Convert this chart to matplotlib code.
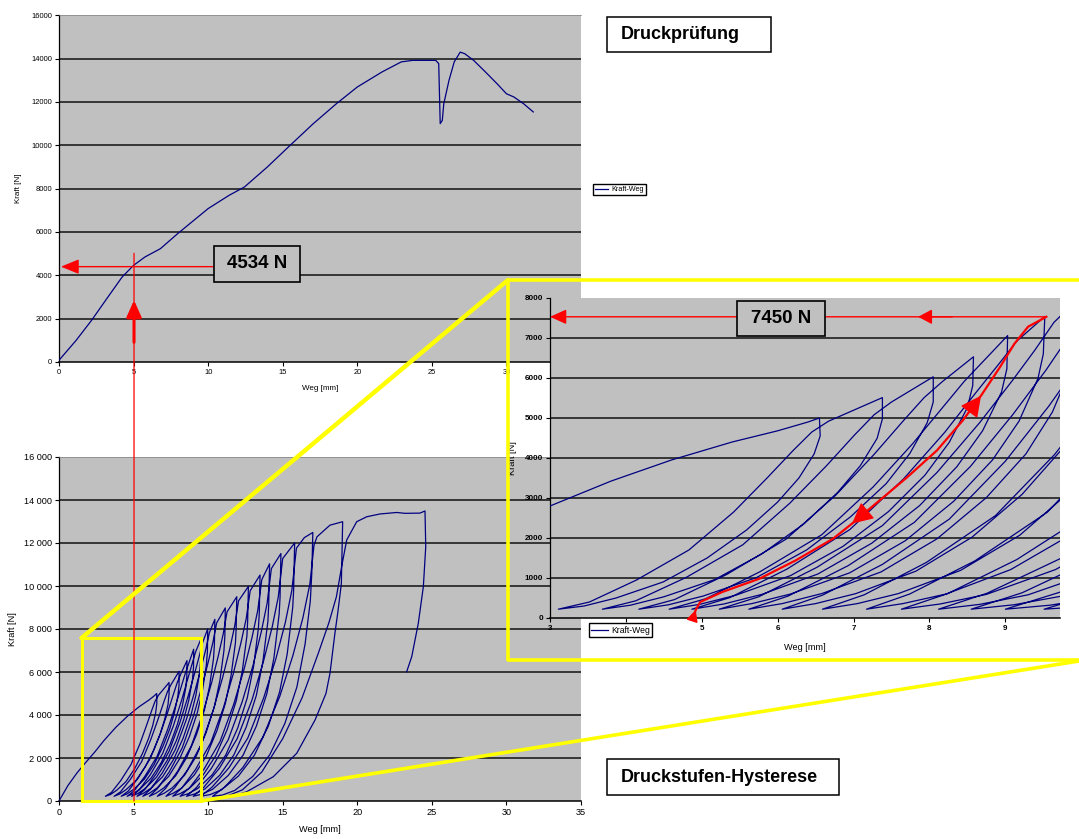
import matplotlib
matplotlib.use("Agg")
import matplotlib.pyplot as plt
from matplotlib.patches import Rectangle, ConnectionPatch
from matplotlib.lines import Line2D

plt.rcParams['font.family'] = ['Liberation Sans', 'DejaVu Sans']

# ---------------- data: Druckprüfung (top chart) ----------------
TOP_WEG = [0, 1.15, 2.18, 3.2, 4.23, 5.0, 5.77, 6.8, 7.95, 10.0, 11.4, 12.44, 13.97,
           15.5, 17.05, 18.6, 20.0, 21.67, 22.95, 23.7, 25.26, 25.46, 25.56, 25.7,
           25.8, 26.15, 26.5, 26.9, 27.2, 27.8, 28.6, 29.36, 30.0, 30.5, 31.15, 31.8]
TOP_KRAFT = [80, 1000, 1920, 2920, 3920, 4460, 4850, 5230, 5920, 7080, 7690, 8080, 9000,
             10000, 11000, 11920, 12690, 13390, 13850, 13920, 13920, 13770, 11000, 11150,
             11920, 13000, 13850, 14300, 14230, 13920, 13380, 12850, 12380, 12230, 11920, 11540]

# ---------------- data: Druckstufen-Hysterese (one continuous series) ----------------
WEG_HYST = (
    [0, 0.6, 1.2, 1.8, 2.4, 3.0, 3.8, 4.6, 5.4, 6.0, 6.4, 6.55]
    + [6.56, 6.48, 6.28, 6.00, 5.59, 5.07, 4.49, 3.87, 3.45, 3.11]
    + [3.52, 4.14, 4.83, 5.42, 5.86, 6.21, 6.45, 6.67, 7.38]
    + [7.38, 7.31, 7.09, 6.79, 6.35, 5.79, 5.17, 4.50, 4.06, 3.69]
    + [4.13, 4.80, 5.54, 6.16, 6.64, 7.01, 7.27, 7.50, 8.05]
    + [8.05, 7.97, 7.74, 7.43, 6.96, 6.38, 5.72, 5.02, 4.56, 4.17]
    + [4.64, 5.33, 6.11, 6.77, 7.27, 7.66, 7.93, 8.17, 8.58]
    + [8.57, 8.50, 8.26, 7.94, 7.46, 6.86, 6.17, 5.45, 4.97, 4.57]
    + [5.05, 5.77, 6.58, 7.26, 7.78, 8.18, 8.46, 8.70, 9.03]
    + [9.02, 8.95, 8.70, 8.36, 7.87, 7.24, 6.53, 5.79, 5.29, 4.87]
    + [5.37, 6.12, 6.95, 7.66, 8.20, 8.61, 8.91, 9.15, 9.52]
    + [9.50, 9.43, 9.18, 8.83, 8.32, 7.68, 6.95, 6.17, 5.66, 5.23]
    + [5.75, 6.52, 7.38, 8.10, 8.66, 9.09, 9.39, 9.64, 9.97]
    + [9.95, 9.88, 9.62, 9.27, 8.75, 8.10, 7.36, 6.58, 6.06, 5.62]
    + [6.14, 6.93, 7.80, 8.54, 9.10, 9.54, 9.84, 10.09, 10.45]
    + [10.42, 10.36, 10.10, 9.75, 9.22, 8.56, 7.82, 7.03, 6.50, 6.06]
    + [6.59, 7.38, 8.26, 9.00, 9.57, 10.01, 10.32, 10.57, 11.15]
    + [11.12, 11.06, 10.79, 10.42, 9.87, 9.19, 8.41, 7.59, 7.05, 6.59]
    + [7.14, 7.96, 8.87, 9.65, 10.24, 10.69, 11.01, 11.27, 11.92]
    + [11.88, 11.83, 11.54, 11.16, 10.59, 9.88, 9.07, 8.22, 7.65, 7.17]
    + [7.74, 8.60, 9.55, 10.35, 10.97, 11.45, 11.78, 12.04, 12.70]
    + [12.65, 12.60, 12.29, 11.89, 11.28, 10.52, 9.66, 8.75, 8.14, 7.63]
    + [8.24, 9.15, 10.17, 11.03, 11.69, 12.19, 12.55, 12.82, 13.48]
    + [13.43, 13.37, 13.05, 12.62, 11.98, 11.18, 10.26, 9.30, 8.66, 8.12]
    + [8.76, 9.73, 10.80, 11.71, 12.41, 12.94, 13.32, 13.60, 14.12]
    + [14.06, 14.01, 13.67, 13.23, 12.56, 11.73, 10.78, 9.78, 9.11, 8.55]
    + [9.22, 10.22, 11.34, 12.28, 13.01, 13.56, 13.95, 14.24, 14.88]
    + [14.82, 14.76, 14.41, 13.94, 13.23, 12.35, 11.35, 10.29, 9.59, 9.00]
    + [9.71, 10.76, 11.94, 12.94, 13.70, 14.29, 14.70, 15.00, 15.80]
    + [15.73, 15.67, 15.30, 14.79, 14.04, 13.10, 12.03, 10.89, 10.14, 9.51]
    + [10.27, 11.40, 12.66, 13.72, 14.54, 15.17, 15.61, 15.92, 16.45, 17.02]
    + [16.95, 16.85, 16.50, 15.95, 15.14, 14.13, 12.99, 11.78, 10.97, 10.30]
    + [11.11, 12.32, 13.66, 14.80, 15.68, 16.35, 16.82, 17.10, 17.30, 18.17, 19.02]
    + [18.93, 18.70, 18.50, 18.17, 17.90, 17.17, 15.94, 14.37, 12.58, 11.90, 11.24]
    + [12.30, 13.60, 15.00, 16.30, 17.40, 18.10, 18.60, 18.95, 19.29, 19.96, 20.63,
       21.52, 22.64, 23.20, 24.20, 24.54, 24.59, 24.43, 24.09, 23.65, 23.31]
)
KRAFT_HYST = (
    [0, 720, 1300, 1800, 2280, 2800, 3420, 3950, 4400, 4680, 4900, 5000]
    + [4550, 4100, 3500, 2900, 2200, 1500, 900, 500, 300, 220]
    + [400, 950, 1700, 2650, 3500, 4200, 4650, 4920, 5510]
    + [4980, 4490, 3810, 3140, 2360, 1600, 960, 530, 320, 220]
    + [430, 1020, 1830, 2870, 3800, 4570, 5080, 5400, 6030]
    + [5400, 4880, 4110, 3360, 2530, 1700, 1010, 550, 330, 220]
    + [460, 1090, 1970, 3080, 4090, 4940, 5510, 5910, 6530]
    + [5810, 5260, 4390, 3570, 2660, 1790, 1060, 570, 340, 220]
    + [480, 1160, 2080, 3280, 4360, 5280, 5920, 6400, 7060]
    + [6230, 5650, 4680, 3780, 2810, 1870, 1100, 590, 350, 220]
    + [510, 1220, 2210, 3480, 4640, 5630, 6340, 6920, 7540]
    + [6600, 5990, 4920, 3950, 2920, 1930, 1130, 600, 360, 220]
    + [530, 1270, 2310, 3640, 4880, 5930, 6700, 7390, 8000]
    + [6950, 6320, 5150, 4100, 3010, 1980, 1150, 610, 360, 220]
    + [550, 1310, 2390, 3790, 5090, 6210, 7050, 7840, 8450]
    + [7280, 6630, 5360, 4230, 3090, 2020, 1170, 610, 360, 220]
    + [570, 1340, 2470, 3920, 5290, 6470, 7380, 8280, 8980]
    + [7680, 7000, 5610, 4400, 3190, 2070, 1190, 610, 360, 220]
    + [580, 1390, 2560, 4090, 5520, 6780, 7770, 8800, 9500]
    + [8060, 7360, 5850, 4550, 3270, 2100, 1210, 600, 360, 220]
    + [600, 1430, 2640, 4240, 5740, 7070, 8140, 9310, 9980]
    + [8390, 7680, 6050, 4670, 3330, 2120, 1210, 590, 350, 220]
    + [610, 1460, 2700, 4350, 5930, 7330, 8470, 9780, 10510]
    + [8770, 8040, 6270, 4790, 3390, 2140, 1210, 580, 340, 220]
    + [620, 1490, 2770, 4490, 6130, 7600, 8840, 10300, 11030]
    + [9130, 8380, 6480, 4910, 3450, 2150, 1200, 560, 330, 220]
    + [630, 1520, 2840, 4610, 6310, 7860, 9180, 10810, 11510]
    + [9450, 8690, 6650, 5000, 3480, 2140, 1190, 540, 320, 220]
    + [640, 1530, 2890, 4700, 6470, 8080, 9480, 11280, 12000]
    + [9770, 9000, 6830, 5070, 3490, 2130, 1160, 520, 300, 220]
    + [650, 1550, 2930, 4790, 6610, 8290, 9790, 11760, 12250, 12490]
    + [10600, 9300, 7300, 5300, 3600, 2150, 1140, 490, 280, 220]
    + [650, 1550, 2960, 4860, 6760, 8510, 10090, 11900, 12290, 12830, 12990]
    + [10100, 8800, 7800, 5940, 5000, 3770, 2220, 1130, 430, 280, 220]
    + [520, 1350, 2900, 4800, 6900, 8300, 9500, 10900, 12140, 12990, 13220,
       13350, 13420, 13380, 13390, 13490, 11830, 9970, 8260, 6710, 6010]
)

# red highlighted path in the zoomed view
RED_WEG = [4.89, 4.92, 4.98, 5.27, 5.76, 6.24, 6.73, 6.98, 7.37, 7.71, 8.10, 8.44,
           8.68, 8.93, 9.12, 9.30, 9.54]
RED_KRAFT = [25, 200, 400, 650, 983, 1442, 1983, 2360, 2983, 3525, 4192, 4942,
             5560, 6275, 6858, 7283, 7530]

# annotation values
MARK_WEG = 5.03          # red vertical marker
TOP_FORCE_LINE = 4400    # red horizontal in top chart
TOP_LABEL = "4534 N"
ZOOM_FORCE_LINE = 7530
ZOOM_LABEL = "7450 N"

# tick labels
TOP_YTICKS = [0, 2000, 4000, 6000, 8000, 10000, 12000, 14000, 16000]
TOP_YLABELS = ["0", "2000", "4000", "6000", "8000", "10000", "12000", "14000", "16000"]
BOT_YLABELS = ["0", "2 000", "4 000", "6 000", "8 000", "10 000", "12 000", "14 000", "16 000"]
XTICKS = [0, 5, 10, 15, 20, 25, 30, 35]
XLABELS = ["0", "5", "10", "15", "20", "25", "30", "35"]
IN_YTICKS = [0, 1000, 2000, 3000, 4000, 5000, 6000, 7000, 8000]
IN_YLABELS = ["0", "1000", "2000", "3000", "4000", "5000", "6000", "7000", "8000"]
IN_XTICKS = [3, 4, 5, 6, 7, 8, 9]
IN_XLABELS = ["3", "", "5", "6", "7", "8", "9"]   # "4" is hidden behind the legend

# ---------------- figure ----------------
W, H = 1079, 839
fig = plt.figure(figsize=(W / 100, H / 100), dpi=100)
fig.patch.set_facecolor("white")


def fx(p):
    return p / W


def fy(p):
    return 1 - p / H


GREY = "#c0c0c0"
NAVY = "#000080"
RED = "#ff0000"
YEL = "#ffff00"


def style(ax, xlim, ylim, yticks, ylabels, xticks, xlabels, fs, bold=False, topline=True):
    ax.set_facecolor(GREY)
    ax.set_xlim(*xlim)
    ax.set_ylim(*ylim)
    ax.set_yticks(yticks)
    ax.set_yticklabels(ylabels, fontsize=fs, fontweight="bold" if bold else "normal")
    ax.set_xticks(xticks)
    ax.set_xticklabels(xlabels, fontsize=fs, fontweight="bold" if bold else "normal")
    for v in yticks[1:-1]:
        ax.axhline(v, color="#101010", lw=1.1, zorder=0.5)
    ax.spines["right"].set_visible(False)
    if topline:
        ax.spines["top"].set_color("#808080")
        ax.spines["top"].set_linewidth(0.5)
    else:
        ax.spines["top"].set_visible(False)
    ax.spines["left"].set_linewidth(0.9)
    ax.spines["bottom"].set_linewidth(1.1)
    ax.tick_params(length=3, width=0.8, pad=2)


# top chart
ax_top = fig.add_axes([fx(59), fy(362), fx(581) - fx(59), fy(15.3) - fy(362)])
style(ax_top, (0, 35), (0, 16000), TOP_YTICKS, TOP_YLABELS, XTICKS, XLABELS, 5.4)
ax_top.plot(TOP_WEG, TOP_KRAFT, color=NAVY, lw=0.9, label="Kraft-Weg", zorder=3)
ax_top.set_xlabel("Weg [mm]", fontsize=5.8)
ax_top.xaxis.set_label_coords(0.5, -0.066)
ax_top.set_ylabel("Kraft [N]", fontsize=5.8)
ax_top.yaxis.set_label_coords(-0.071, 0.5)
ax_top.legend(loc="upper left", bbox_to_anchor=(fx(593), fy(184)), bbox_transform=fig.transFigure,
              fontsize=5.2, frameon=True, fancybox=False, edgecolor="black", framealpha=1,
              borderpad=0.3, handlelength=1.8, handletextpad=0.4, borderaxespad=0)

# bottom chart
ax_bot = fig.add_axes([fx(59), fy(801), fx(581) - fx(59), fy(457) - fy(801)])
style(ax_bot, (0, 35), (0, 16000), TOP_YTICKS, BOT_YLABELS, XTICKS, XLABELS, 6.6)
ax_bot.plot(WEG_HYST, KRAFT_HYST, color=NAVY, lw=0.9, zorder=3)
ax_bot.set_xlabel("Weg [mm]", fontsize=6.6)
ax_bot.xaxis.set_label_coords(0.5, -0.07)
ax_bot.set_ylabel("Kraft [N]", fontsize=6.6)
ax_bot.yaxis.set_label_coords(-0.080, 0.5)

# zoomed inset
ax_in = fig.add_axes([fx(550), fy(618), fx(1060) - fx(550), fy(298) - fy(618)])
ax_in.set_zorder(3)
style(ax_in, (3, 9.72), (0, 8000), IN_YTICKS, IN_YLABELS, IN_XTICKS, IN_XLABELS, 5.8,
      bold=True, topline=False)
ax_in.plot(WEG_HYST, KRAFT_HYST, color=NAVY, lw=0.9, label="Kraft-Weg", zorder=3)
ax_in.set_xlabel("Weg [mm]", fontsize=6.6)
ax_in.xaxis.set_label_coords(0.5, -0.078)
ax_in.set_ylabel("Kraft [N]", fontsize=6.6)
ax_in.yaxis.set_label_coords(-0.0655, 0.5)
leg_in = ax_in.legend(loc="upper left", bbox_to_anchor=(fx(588.6), fy(623.3)),
                      bbox_transform=fig.transFigure, fontsize=6.2, frameon=True, fancybox=False,
                      edgecolor="black", framealpha=1, borderpad=0.3, handlelength=1.9,
                      handletextpad=0.4, borderaxespad=0)
leg_in.set_zorder(10)

# ---------------- red annotations, top chart ----------------
ax_top.annotate("", xy=(0.13, TOP_FORCE_LINE), xytext=(10.36, TOP_FORCE_LINE),
                arrowprops=dict(arrowstyle="-|>,head_length=1.1,head_width=0.45", color=RED,
                                lw=1.0, shrinkA=0, shrinkB=0, mutation_scale=10), zorder=6)
ax_top.annotate("", xy=(MARK_WEG, 2848), xytext=(MARK_WEG, 910),
                arrowprops=dict(arrowstyle="-|>,head_length=1.0,head_width=0.45", color=RED,
                                lw=2.2, shrinkA=0, shrinkB=0, mutation_scale=10), zorder=6)
ax_top.add_patch(Rectangle((10.36, 3705), 5.82, 1635, facecolor=GREY, edgecolor="black",
                           lw=1.2, zorder=7))
ax_top.text(13.27, 4523, TOP_LABEL, ha="center", va="center", fontsize=13.5,
            fontweight="bold", zorder=8)

fig.add_artist(ConnectionPatch(xyA=(MARK_WEG, 5016), coordsA=ax_top.transData,
                               xyB=(MARK_WEG, 0), coordsB=ax_bot.transData,
                               color=RED, lw=0.9, zorder=6))

# ---------------- red annotations, inset ----------------
ax_in.plot(RED_WEG, RED_KRAFT, color=RED, lw=1.6, zorder=5)
arrow_kw = dict(color=RED, lw=1.0, shrinkA=0, shrinkB=0, mutation_scale=10)
ax_in.annotate("", xy=(RED_WEG[7], RED_KRAFT[7]), xytext=(RED_WEG[8], RED_KRAFT[8]),
               arrowprops=dict(arrowstyle="-|>,head_length=1.3,head_width=0.65", **arrow_kw), zorder=6)
ax_in.annotate("", xy=(RED_WEG[12], RED_KRAFT[12]), xytext=(RED_WEG[11], RED_KRAFT[11]),
               arrowprops=dict(arrowstyle="-|>,head_length=1.3,head_width=0.65", **arrow_kw), zorder=6)
ax_in.annotate("", xy=(RED_WEG[1], RED_KRAFT[1]), xytext=(RED_WEG[0], RED_KRAFT[0]),
               arrowprops=dict(arrowstyle="-|>,head_length=0.7,head_width=0.35", **arrow_kw),
               zorder=6, annotation_clip=False)
ax_in.annotate("", xy=(3.0, ZOOM_FORCE_LINE), xytext=(RED_WEG[-1], ZOOM_FORCE_LINE),
               arrowprops=dict(arrowstyle="-|>,head_length=1.0,head_width=0.45", **arrow_kw), zorder=6)
ax_in.annotate("", xy=(7.85, ZOOM_FORCE_LINE), xytext=(8.3, ZOOM_FORCE_LINE),
               arrowprops=dict(arrowstyle="-|>,head_length=0.85,head_width=0.45", **arrow_kw), zorder=6)
ax_in.add_patch(Rectangle((5.47, 7050), 1.15, 883, facecolor=GREY, edgecolor="black",
                          lw=1.2, zorder=7, clip_on=False))
ax_in.text(6.045, 7491, ZOOM_LABEL, ha="center", va="center", fontsize=13.5,
           fontweight="bold", zorder=8)

# ---------------- yellow zoom markers ----------------
ax_bot.add_patch(Rectangle((1.51, 0), 8.01, 7580, fill=False, edgecolor=YEL, lw=2.2,
                           clip_on=False, zorder=8))
fig.add_artist(ConnectionPatch(xyA=(1.51, 7580), coordsA=ax_bot.transData,
                               xyB=(fx(508), fy(280)), coordsB=fig.transFigure,
                               color=YEL, lw=3.2, zorder=11))
fig.add_artist(ConnectionPatch(xyA=(9.52, 0), coordsA=ax_bot.transData,
                               xyB=(1.0, fy(661)), coordsB=fig.transFigure,
                               color=YEL, lw=2.6, zorder=11))
fig.add_artist(Line2D([1.0, fx(508), fx(508), 1.0], [fy(280), fy(280), fy(660), fy(660)],
                      transform=fig.transFigure, color=YEL, lw=2.6, zorder=11))

# ---------------- title boxes ----------------
def title_box(x0, y0, x1, y1, text, tx):
    fig.add_artist(Rectangle((fx(x0), fy(y1)), fx(x1) - fx(x0), fy(y0) - fy(y1),
                             transform=fig.transFigure, facecolor="white",
                             edgecolor="black", lw=1.1, zorder=12))
    fig.text(fx(tx), fy((y0 + y1) / 2), text, ha="left", va="center", fontsize=13,
             fontweight="bold", zorder=13)


title_box(606.7, 16.7, 770.7, 51.7, "Druckprüfung", 620.7)
title_box(607, 759, 839, 795, "Druckstufen-Hysterese", 621)

fig.savefig("out.png", dpi=100, facecolor="white")
